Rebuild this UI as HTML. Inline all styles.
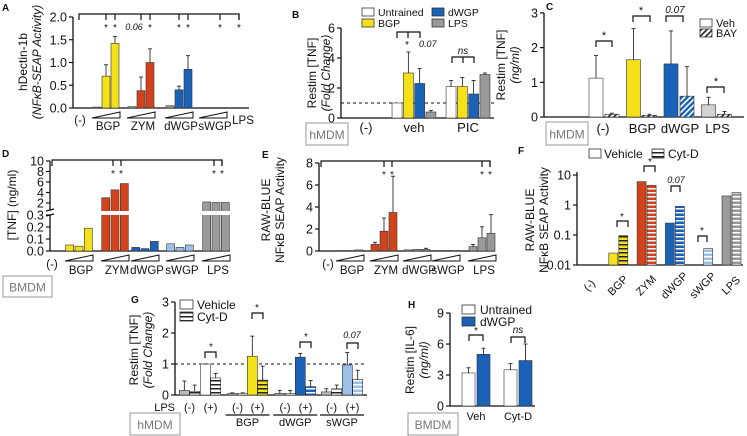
<!DOCTYPE html>
<html><head><meta charset="utf-8"><style>
html,body{margin:0;padding:0;background:#fff}
svg{display:block;font-family:"Liberation Sans",sans-serif}
</style></head><body>
<svg id="fig" width="747" height="436" viewBox="0 0 747 436" xmlns="http://www.w3.org/2000/svg">
<defs>
<pattern id="diagB" width="4" height="4" patternUnits="userSpaceOnUse" patternTransform="rotate(45)"><rect width="4" height="4" fill="#1a62b8"/><rect width="1.6" height="4" fill="#fff"/></pattern>
<pattern id="diagK" width="4" height="4" patternUnits="userSpaceOnUse" patternTransform="rotate(45)"><rect width="4" height="4" fill="#fff"/><rect width="1.6" height="4" fill="#222"/></pattern>
<pattern id="hY" width="4" height="4" patternUnits="userSpaceOnUse"><rect width="4" height="4" fill="#f5e11a"/><rect width="4" height="1.5" fill="#222"/></pattern>
<pattern id="hR" width="4" height="4" patternUnits="userSpaceOnUse"><rect width="4" height="4" fill="#d2431b"/><rect width="4" height="1.5" fill="#fff"/></pattern>
<pattern id="hB" width="4" height="4" patternUnits="userSpaceOnUse"><rect width="4" height="4" fill="#1a62b8"/><rect width="4" height="1.5" fill="#fff"/></pattern>
<pattern id="hL" width="4" height="4" patternUnits="userSpaceOnUse"><rect width="4" height="4" fill="#9cc0ea"/><rect width="4" height="1.5" fill="#fff"/></pattern>
<pattern id="hG" width="4" height="4" patternUnits="userSpaceOnUse"><rect width="4" height="4" fill="#9a9a9a"/><rect width="4" height="1.5" fill="#fff"/></pattern>
<pattern id="hK" width="4" height="4" patternUnits="userSpaceOnUse"><rect width="4" height="4" fill="#fff"/><rect width="4" height="1.5" fill="#222"/></pattern>
</defs>
</svg>
<script>
// ---- data ----
const A_groups=["(-)","BGP","ZYM","dWGP","sWGP","LPS"];
const A_vals=[[0.01],[0.02,0.7,1.42],[0.03,0.38,1.0],[0.05,0.4,0.85],[0.01,0.01,0.01],[0.01]];
const A_err=[[0],[0,0.25,0.15],[0,0.3,0.3],[0,0.08,0.3],[0,0,0],[0]];
const A_ticks=[0,0.5,1.0,1.5,2.0];
const B_groups=["(-)","veh","PIC"];
const B_series=["Untrained","BGP","dWGP","LPS"];
const B_vals=[[0.03,0.03,0.03,0.03],[1.0,3.0,2.3,0.4],[2.1,2.1,1.6,2.9]];
const B_err=[[0,0,0,0],[0,1.4,1.0,0.1],[0.4,0.6,0.9,0.1]];
const B_ticks=[0,2,4,6];
const C_groups=["(-)","BGP","dWGP","LPS"];
const C_veh=[1.12,1.65,1.53,0.35];
const C_bay=[0.08,0.05,0.6,0.08];
const C_vehErr=[0.65,0.9,0.95,0.22];
const C_bayErr=[0.03,0.03,0.85,0.08];
const C_ticks=[0,1,2,3];
const D_groups=["(-)","BGP","ZYM","dWGP","sWGP","LPS"];
const D_vals=[[0],[0.05,0.04,0.19],[3.0,4.5,5.7],[0.03,0.02,0.08],[0.06,0.03,0.05],[2.2,2.1,2.1]];
const D_ticksLow=[0,0.1,0.2,0.3];
const D_ticksHigh=[2,4,6,8,10];
const E_groups=["(-)","BGP","ZYM","dWGP","sWGP","LPS"];
const E_vals=[[0],[0.05,0.05,0.1],[0.6,1.8,3.5],[0.1,0.15,0.15],[0.05,0.05,0.05],[0.4,1.2,1.6]];
const E_err=[[0],[0,0,0],[0.2,1.2,3.3],[0,0,0.1],[0,0,0],[0.2,1.0,1.7]];
const E_ticks=[0,2,4,6,8];
const F_groups=["(-)","BGP","ZYM","dWGP","sWGP","LPS"];
const F_veh=[null,0.025,6.0,0.25,null,2.0];
const F_cyt=[null,0.095,4.5,0.9,0.035,2.6];
const F_ticks=[0.01,0.1,1,10];
const G_groups=["BGP","dWGP","sWGP"];
const G_veh=[0.15,1.0,0.05,1.25,0.05,1.22,0.1,0.97];
const G_cyt=[0.12,0.55,0.05,0.48,0.05,0.27,0.2,0.5];
const G_vehErr=[0.3,0,0.02,0.65,0.1,0.12,0.1,0.4];
const G_cytErr=[0.2,0.15,0.02,0.45,0.1,0.2,0.12,0.3];
const G_ticks=[0,1,2,3];
const H_groups=["Veh","Cyt-D"];
const H_untrained=[3.2,3.5];
const H_dwgp=[5.0,4.4];
const H_uErr=[0.5,0.6];
const H_dErr=[0.6,1.6];
const H_ticks=[0,3,6,9];

const svg=document.getElementById('fig');
const NS='http://www.w3.org/2000/svg';
function mk(tag,attrs,name,parent){
  const el=document.createElementNS(NS,tag);
  for(const k in attrs) el.setAttribute(k,attrs[k]);
  
  
  (parent||svg).appendChild(el);
  return el;
}
function txt(x,y,s,name,o){
  o=o||{};
  const el=mk('text',{x:x,y:y,'font-size':o.fs||11,'text-anchor':o.a||'middle',fill:o.c||'#111','font-style':o.it?'italic':'normal','font-weight':o.b?'bold':'normal'},name);
  if(o.rot) el.setAttribute('transform','rotate('+o.rot+' '+x+' '+y+')');
  el.textContent=s;return el;
}
function ln(x1,y1,x2,y2,name,w,dash){
  const el=mk('line',{x1:x1,y1:y1,x2:x2,y2:y2,stroke:'#111','stroke-width':w||1.2},name);
  if(dash) el.setAttribute('stroke-dasharray',dash);
  return el;
}
function bar(cx,w,y0,y1,fill,name,stroke){
  return mk('rect',{x:cx-w/2,y:Math.min(y0,y1),width:w,height:Math.max(Math.abs(y0-y1),0.8),fill:fill,stroke:stroke||'#333','stroke-width':0.6},name);
}
function err(cx,ytop,yerr,name){
  ln(cx,ytop,cx,yerr,name,0.8);ln(cx-2,yerr,cx+2,yerr,name+'-cap',0.8);
}
function yAxis(x,yTop,yBot,ticks,scale,fmt,name){
  ln(x,yTop,x,yBot,name,1.3);
  ticks.forEach(t=>{const y=scale(t);ln(x-4,y,x,y,name+'-tick',1.2);txt(x-6,y+4.5,fmt(t),name+'-label',{a:'end',fs:12.5});});
}
function panelLetter(x,y,s){txt(x,y,s,'panel-label-'+s,{b:true,fs:10,a:'start'});}
function boxLabel(x,y,w,h,s,name){
  mk('rect',{x:x,y:y,width:w,height:h,fill:'#fff',stroke:'#999','stroke-width':1},name+'-box');
  txt(x+w/2,y+h/2+5,s,name,{fs:12,c:'#777'});
}
function wedge(x1,x2,y,name){
  mk('polygon',{points:x1+','+(y+6)+' '+x2+','+y+' '+x2+','+(y+6),fill:'none',stroke:'#111','stroke-width':1},name);
}
function bracket(x1,x2,y,name){
  mk('path',{d:'M'+x1+' '+(y+6)+'V'+y+'H'+x2+'V'+(y+6),fill:'none',stroke:'#111','stroke-width':1.2},name);
}
const colA=['#9a9a9a','#f5e11a','#d2431b','#1a62b8','#9cc0ea','#9a9a9a'];

// ---- Panel A ----
panelLetter(2,11,'A');
const yA=v=>108-v*45.5;
yAxis(73,17,108,A_ticks,yA,t=>t.toFixed(1),'a-y-axis');
ln(73,108,249,108,'a-x-axis',1.3);
txt(27,62,'hDectin-1b','a-y-title',{rot:-90,fs:12});
txt(41,62,'(NFκB-SEAP Activity)','a-y-subtitle',{rot:-90,fs:12,it:true});
const A_cx=[80,106,141,179,213,238];
A_vals.forEach((g,gi)=>{g.forEach((v,i)=>{
  const cx=A_cx[gi]+(g.length>1?(i-1)*9:0);
  const fill=i===0&&g.length>1?'#9a9a9a':colA[gi];
  bar(cx,8,yA(0),yA(v),gi===0||gi===5||gi===4?'#9a9a9a':fill,'a-bar-'+A_groups[gi]+'-'+i);
  if(A_err[gi][i]>0) err(cx,yA(v),yA(v+A_err[gi][i]),'a-err');
});});
[1,2,3,4].forEach(gi=>wedge(A_cx[gi]-14,A_cx[gi]+14,112,'a-dose-wedge'));
txt(80,124,'(-)','a-x-label',{fs:11.5});
A_groups.slice(1,5).forEach((g,i)=>txt(A_cx[i+1]+2,130,g,'a-x-label',{fs:11.5}));
txt(243,124,'LPS','a-x-label',{fs:11.5});
mk('path',{d:'M79 20V14H239V20',fill:'none',stroke:'#111','stroke-width':1.2},'a-sig-bracket');
[106,115,141,150,179,188,220,239].forEach(x=>ln(x,14,x,20,'a-sig-tick'));
[106,115,150,179,188,220,239].forEach(x=>txt(x,31,'*','a-star',{fs:10}));
txt(134,30,'0.06','a-pvalue',{fs:9,it:true});

// ---- Panel B ----
panelLetter(292,18,'B');
const yB=v=>118-v*15;
yAxis(341,28,118,B_ticks,yB,t=>t,'b-y-axis');
ln(341,118,494,118,'b-x-axis',1.3);
ln(341,yB(1),494,yB(1),'b-baseline-dashed',1,'3,3');
txt(316,73,'Restim [TNF]','b-y-title',{rot:-90,fs:12});
txt(330,73,'(Fold Change)','b-y-subtitle',{rot:-90,fs:12,it:true});
const colB=['#fff','#f5e11a','#1a62b8','#9a9a9a'];
const B_cx=[366,414,468];
B_vals.forEach((g,gi)=>g.forEach((v,i)=>{
  const cx=B_cx[gi]+(i-1.5)*11.3;
  bar(cx,10,yB(0),yB(v),gi===0?'#aaa':colB[i],'b-bar-'+B_groups[gi]+'-'+B_series[i]);
  if(B_err[gi][i]>0) err(cx,yB(v),yB(v+B_err[gi][i]),'b-err');
}));
B_groups.forEach((g,i)=>txt(B_cx[i],132,g,'b-x-label',{fs:13}));
boxLabel(306,123,42,22,'hMDM','b-cell-type');
[[362,8,0],[362,19,1],[432,8,2],[432,19,3]].forEach(([x,y,i])=>{
  mk('rect',{x:x,y:y,width:12,height:8,fill:colB[i],stroke:'#333','stroke-width':0.8},'b-legend-swatch');
  txt(x+16,y+8,B_series[i],'b-legend-entry',{a:'start',fs:10.5});
});
bracket(397,420,32,'b-sig-bracket');ln(408,32,408,38,'b-sig-tick');
txt(407,48,'*','b-star',{fs:10});txt(419,47,'0.07','b-pvalue',{fs:9,it:true,a:'start'});
bracket(452,474,57,'b-ns-bracket');ln(463,57,463,63,'b-ns-tick');
txt(463,54,'ns','b-ns',{fs:10,it:true});

// ---- Panel C ----
panelLetter(546,10,'C');
const yC=v=>117-v*34.7;
yAxis(544,13,117,C_ticks,yC,t=>t,'c-y-axis');
ln(544,117,744,117,'c-x-axis',1.3);
txt(505,65,'Restim [TNF]','c-y-title',{rot:-90,fs:12});
txt(519,65,'(ng/ml)','c-y-subtitle',{rot:-90,fs:12,it:true});
const C_fill=['#fff','#f5e11a','#1a62b8','#d2d2d2'];
const C_bayFill=['url(#diagK)','url(#diagK)','url(#diagB)','url(#diagK)'];
C_groups.forEach((g,i)=>{
  const cx=604+i*37.5;
  bar(cx-8,14,yC(0),yC(C_veh[i]),C_fill[i],'c-bar-veh-'+g);
  err(cx-8,yC(C_veh[i]),yC(C_veh[i]+C_vehErr[i]),'c-err');
  bar(cx+8,14,yC(0),yC(C_bay[i]),C_bayFill[i],'c-bar-bay-'+g);
  err(cx+8,yC(C_bay[i]),yC(C_bay[i]+C_bayErr[i]),'c-err');
  txt(cx+(i===0?-1:1),133,g,'c-x-label',{fs:13});
});
bracket(596,612,41,'c-sig-bracket');txt(604,39,'*','c-star',{fs:11});
bracket(633,650,16,'c-sig-bracket');txt(641,14,'*','c-star',{fs:11});
bracket(666,683,16,'c-sig-bracket');txt(675,13,'0.07','c-pvalue',{fs:10,it:true});
bracket(707,724,87,'c-sig-bracket');txt(716,85,'*','c-star',{fs:11});
boxLabel(546,122,42,23,'hMDM','c-cell-type');
mk('rect',{x:700,y:19,width:12,height:8,fill:'#fff',stroke:'#333','stroke-width':0.8},'c-legend-swatch-veh');
txt(716,27,'Veh','c-legend-entry',{a:'start',fs:11});
mk('rect',{x:700,y:29,width:12,height:8,fill:'url(#diagK)',stroke:'#333','stroke-width':0.8},'c-legend-swatch-bay');
txt(716,37,'BAY','c-legend-entry',{a:'start',fs:11});

// ---- Panel D ----
panelLetter(2,157,'D');
const yDl=v=>251-v*120;
const yDh=v=>203-(v-2)*5.25;
const yD=v=>v>0.3?yDh(v):yDl(v);
ln(50,161,50,210,'d-y-axis-upper',1.3);ln(50,215,50,251,'d-y-axis-lower',1.3);
ln(46,211,54,209,'d-axis-break');ln(46,216,54,214,'d-axis-break');
D_ticksHigh.forEach(t=>{ln(46,yDh(t),50,yDh(t),'d-y-tick');txt(44,yDh(t)+4.5,t,'d-y-label',{a:'end',fs:12.5});});
D_ticksLow.forEach(t=>{ln(46,yDl(t),50,yDl(t),'d-y-tick');txt(44,yDl(t)+4.5,t.toFixed(1),'d-y-label',{a:'end',fs:12.5});});
ln(50,251,230,251,'d-x-axis',1.3);
txt(16,205,'[TNF] (ng/ml)','d-y-title',{rot:-90,fs:12});
const D_cx=[55,79,115,145,180,216];
const colD=['#fff','#f5e11a','#d2431b','#1a62b8','#9cc0ea','#9a9a9a'];
D_vals.forEach((g,gi)=>{if(gi===0)return;g.forEach((v,i)=>{
  const cx=D_cx[gi]+(i-1)*9.3;
  bar(cx,8,yDl(0),yD(v),colD[gi],'d-bar-'+D_groups[gi]+'-'+i);
});
wedge(D_cx[gi]-14,D_cx[gi]+14,255,'d-dose-wedge');});
mk('rect',{x:100,y:211,width:135,height:4,fill:'#fff'},'d-break-gap');
txt(52,268,'(-)','d-x-label',{fs:11.5});
D_groups.slice(1).forEach((g,i)=>txt(D_cx[i+1]+2,274,g,'d-x-label',{fs:11.5}));
mk('path',{d:'M52 166V160H222V166',fill:'none',stroke:'#111','stroke-width':1.2},'d-sig-bracket');
[113,121,214,222].forEach(x=>{ln(x,160,x,166,'d-sig-tick');txt(x,177,'*','d-star',{fs:10});});
boxLabel(3,276,49,21,'BMDM','d-cell-type');

// ---- Panel E ----
panelLetter(262,158,'E');
const yE=v=>251-v*11;
yAxis(319,163,251,E_ticks,yE,t=>t,'e-y-axis');
ln(319,251,495,251,'e-x-axis',1.3);
txt(270,210,'RAW-BLUE','e-y-title',{rot:-90,fs:12});
txt(284,210,'NFκB SEAP Activity','e-y-subtitle',{rot:-90,fs:12});
const E_cx=[328,350,384,417,446,482];
E_vals.forEach((g,gi)=>{if(gi===0)return;g.forEach((v,i)=>{
  const cx=E_cx[gi]+(i-1)*9;
  bar(cx,8,yE(0),yE(v),gi===2?'#d2431b':'#9a9a9a','e-bar-'+E_groups[gi]+'-'+i);
  if(E_err[gi][i]>0) err(cx,yE(v),yE(v+E_err[gi][i]),'e-err');
});
wedge(E_cx[gi]-14,E_cx[gi]+14,255,'e-dose-wedge');});
txt(328,268,'(-)','e-x-label',{fs:11.5});
E_groups.slice(1).forEach((g,i)=>txt(E_cx[i+1]+2,274,g,'e-x-label',{fs:11.5}));
mk('path',{d:'M321 167V161H490V167',fill:'none',stroke:'#111','stroke-width':1.2},'e-sig-bracket');
[384,392,482,490].forEach(x=>{ln(x,161,x,167,'e-sig-tick');txt(x,178,'*','e-star',{fs:10});});

// ---- Panel F ----
panelLetter(518,154,'F');
const yF=v=>265-(Math.log10(v)+2)*30;
yAxis(577,172,265,F_ticks,yF,t=>String(t),'f-y-axis');
ln(577,265,743,265,'f-x-axis',1.3);
txt(534,220,'RAW-BLUE','f-y-title',{rot:-90,fs:12});
txt(548,220,'NFκB SEAP Activity','f-y-subtitle',{rot:-90,fs:12});
const F_fill=['#fff','#f5e11a','#d2431b','#1a62b8','#9cc0ea','#9a9a9a'];
const F_hatch=['url(#hK)','url(#hY)','url(#hR)','url(#hB)','url(#hL)','url(#hG)'];
F_groups.forEach((g,i)=>{
  const cx=590+i*28.3;
  if(F_veh[i]!==null) bar(cx-5,9,yF(0.01),yF(F_veh[i]),F_fill[i],'f-bar-vehicle-'+g);
  if(F_cyt[i]!==null) bar(cx+5,9,yF(0.01),yF(F_cyt[i]),F_hatch[i],'f-bar-cytd-'+g);
  txt(cx+2,288,g,'f-x-label',{fs:11,rot:-45});
});
bracket(617,628,221,'f-sig-bracket');txt(622,220,'*','f-star',{fs:10});
bracket(644,655,166,'f-sig-bracket');txt(650,165,'*','f-star',{fs:10});
bracket(671,680,186,'f-sig-bracket');txt(676,183,'0.07','f-pvalue',{fs:9,it:true});
bracket(698,707,236,'f-sig-bracket');txt(702,234,'*','f-star',{fs:10});
mk('rect',{x:589,y:149,width:12,height:9,fill:'#fff',stroke:'#333','stroke-width':0.8},'f-legend-swatch-vehicle');
txt(604,158,'Vehicle','f-legend-entry',{a:'start',fs:12});
mk('rect',{x:652,y:149,width:12,height:9,fill:'url(#hK)',stroke:'#333','stroke-width':0.8},'f-legend-swatch-cytd');
txt(668,158,'Cyt-D','f-legend-entry',{a:'start',fs:12});

// ---- Panel G ----
panelLetter(131,303,'G');
const yG=v=>395-v*31;
yAxis(175,302,395,G_ticks,yG,t=>t,'g-y-axis');
ln(175,395,367,395,'g-x-axis',1.3);
ln(175,yG(1),367,yG(1),'g-baseline-dashed',1,'3,3');
txt(138,350,'Restim [TNF]','g-y-title',{rot:-90,fs:12});
txt(152,350,'(Fold Change)','g-y-subtitle',{rot:-90,fs:12,it:true});
const G_cx=[189.5,210.5,237.5,257.5,285,305.5,331.5,352.5];
const G_pFill=['#fff','#f5e11a','#1a62b8','#9cc0ea'];
const G_pHatch=['url(#hK)','url(#hY)','url(#hB)','url(#hL)'];
G_veh.forEach((v,i)=>{
  const g=Math.floor(i/2),plus=i%2===1;
  const f1=plus?G_pFill[g]:'#bbb', f2=plus?G_pHatch[g]:'url(#hK)';
  bar(G_cx[i]-5.2,10,yG(0),yG(v),f1,'g-bar-vehicle-'+i);
  err(G_cx[i]-5.2,yG(v),yG(v+G_vehErr[i]),'g-err');
  bar(G_cx[i]+5.2,10,yG(0),yG(G_cyt[i]),f2,'g-bar-cytd-'+i);
  err(G_cx[i]+5.2,yG(G_cyt[i]),yG(G_cyt[i]+G_cytErr[i]),'g-err');
  txt(G_cx[i],411,plus?'(+)':'(-)','g-lps-label',{fs:11});
});
txt(175,411,'LPS','g-lps-title',{fs:11,a:'end'});
G_groups.forEach((g,i)=>{const c=(G_cx[2+2*i]+G_cx[3+2*i])/2;ln(c-22,415,c+22,415,'g-group-line');txt(c,426,g,'g-group-label',{fs:11});});
bracket(205,216,352,'g-sig-bracket');txt(211,350,'*','g-star',{fs:10});
bracket(252,263,313,'g-sig-bracket');txt(257,311,'*','g-star',{fs:10});
bracket(300,311,342,'g-sig-bracket');txt(306,340,'*','g-star',{fs:10});
bracket(347,358,343,'g-sig-bracket');txt(352,338,'0.07','g-pvalue',{fs:9,it:true});
mk('rect',{x:180,y:300,width:13,height:9,fill:'#fff',stroke:'#333','stroke-width':0.8},'g-legend-swatch-vehicle');
txt(197,309,'Vehicle','g-legend-entry',{a:'start',fs:12});
mk('rect',{x:180,y:312,width:13,height:9,fill:'url(#hK)',stroke:'#333','stroke-width':0.8},'g-legend-swatch-cytd');
txt(197,321,'Cyt-D','g-legend-entry',{a:'start',fs:12});
boxLabel(130,413,50,22,'hMDM','g-cell-type');

// ---- Panel H ----
panelLetter(408,308,'H');
const yH=v=>406-v*10.33;
yAxis(450,313,406,H_ticks,yH,t=>t,'h-y-axis');
ln(450,406,535,406,'h-x-axis',1.3);
txt(414,360,'Restim [IL-6]','h-y-title',{rot:-90,fs:12});
txt(428,360,'(ng/ml)','h-y-subtitle',{rot:-90,fs:12,it:true});
H_groups.forEach((g,i)=>{
  const cx=476+i*42;
  bar(cx-7.5,13,yH(0),yH(H_untrained[i]),'#fff','h-bar-untrained-'+g);
  err(cx-7.5,yH(H_untrained[i]),yH(H_untrained[i]+H_uErr[i]),'h-err');
  bar(cx+7.5,13,yH(0),yH(H_dwgp[i]),'#1a62b8','h-bar-dwgp-'+g);
  err(cx+7.5,yH(H_dwgp[i]),yH(H_dwgp[i]+H_dErr[i]),'h-err');
  txt(cx,420,g,'h-x-label',{fs:11});
});
bracket(469,483,335,'h-sig-bracket');txt(476,334,'*','h-star',{fs:10});
bracket(511,525,337,'h-sig-bracket');txt(518,333,'ns','h-ns',{fs:10,it:true});
mk('rect',{x:462,y:305,width:13,height:9,fill:'#fff',stroke:'#333','stroke-width':0.8},'h-legend-swatch-untrained');
txt(480,314,'Untrained','h-legend-entry',{a:'start',fs:12});
mk('rect',{x:462,y:317,width:13,height:9,fill:'#1a62b8',stroke:'#333','stroke-width':0.8},'h-legend-swatch-dwgp');
txt(480,326,'dWGP','h-legend-entry',{a:'start',fs:12});
boxLabel(408,413,50,22,'BMDM','h-cell-type');
</script>
</body></html>
